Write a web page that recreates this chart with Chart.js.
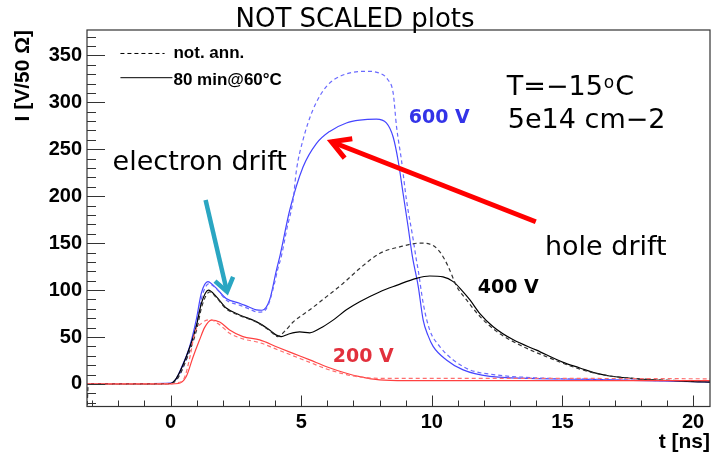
<!DOCTYPE html>
<html><head><meta charset="utf-8">
<script src="https://cdn.jsdelivr.net/npm/chart.js@4.4.1/dist/chart.umd.min.js"></script>
<style>html,body{margin:0;padding:0;background:#fff}#wrap{width:713px;height:455px}</style>
</head><body><div id="wrap"><canvas id="c" width="713" height="455"></canvas></div>
<script>
// ---- data ----
const titleText = "NOT SCALED plots";
const xTicks = [0, 5, 10, 15, 20];
const yTicks = [0, 50, 100, 150, 200, 250, 300, 350];

// 600 V, not annealed (dashed)
const t600n = [-3.2, -1, 0, 0.2, 0.45, 0.77, 1.02, 1.22, 1.48, 1.65, 1.8, 2.15, 2.64, 3.0, 3.35, 3.55, 3.75, 3.95, 4.1, 4.24, 4.45, 4.69, 4.82, 5.07, 5.45, 5.97, 6.6, 7.5, 8.0, 8.32, 8.52, 8.65, 8.84, 9.03, 9.28, 9.41, 9.48, 9.67, 9.92, 10.3, 10.82, 11.46, 12.48, 14, 16, 18, 20, 20.65];
const i600n = [0.5, 0.5, 0.5, 4, 16, 40, 68, 95, 107, 104, 100, 89, 84, 80, 76.5, 77, 85, 104, 122, 136, 165, 196, 228, 260, 292, 317, 329, 333, 331, 324, 310, 274, 238, 196, 155, 132, 121, 86, 57.5, 40, 25.6, 15, 9.6, 6.5, 5, 4, 3, 3];
// 600 V, 80 min @ 60 C (solid)
const t600a = [-3.2, -1, 0, 0.2, 0.41, 0.73, 0.98, 1.18, 1.43, 1.6, 1.75, 2.13, 2.64, 3.0, 3.28, 3.5, 3.79, 4.05, 4.2, 4.56, 5.07, 5.58, 6.09, 6.73, 7.24, 7.88, 8.26, 8.52, 8.71, 8.9, 9.09, 9.25, 9.48, 9.67, 9.85, 10.05, 10.56, 11.2, 12.22, 13.75, 15.67, 17, 20, 20.65];
const i600a = [0.5, 0.5, 1, 5, 17, 40, 68, 97, 109, 106, 102, 91, 86, 82, 79, 78.5, 89.5, 121, 138, 185, 231, 256, 269, 278, 281, 282, 278, 263, 238, 203, 168, 137, 104, 68, 52, 40, 25.6, 15, 8, 6, 5, 4.3, 2.5, 2];
// 400 V, not annealed (dashed)
const t400n = [-3.2, -3.15, -1, 0, 0.25, 0.62, 1.0, 1.2, 1.5, 1.75, 2.13, 2.64, 3.28, 3.79, 4.1, 4.4, 4.69, 5.33, 5.97, 6.6, 7.24, 8.0, 8.77, 9.54, 9.92, 10.3, 10.63, 10.95, 11.33, 11.84, 12.48, 13.37, 14.39, 15.54, 16.5, 17.5, 19, 20.65];
const i400n = [-30, 0, 0, 0.3, 5, 27, 58, 83, 98, 92, 80, 73, 66, 57, 50.5, 57, 66, 79, 93, 107, 123, 139, 146, 150, 149, 141, 125, 104, 89.5, 72, 56, 41.5, 29, 17, 10, 6.5, 4, 3];
// 400 V, 80 min @ 60 C (solid)
const t400a = [-3.2, -1, 0, 0.22, 0.6, 0.98, 1.18, 1.45, 1.75, 2.13, 2.64, 3.28, 3.79, 4.05, 4.24, 4.5, 4.94, 5.33, 5.71, 6.22, 6.73, 7.24, 8.0, 8.65, 9.41, 9.92, 10.43, 10.82, 11.14, 11.46, 11.84, 12.35, 13.12, 14.01, 15.03, 15.67, 16.2, 16.8, 18.1, 20, 20.65];
const i400a = [0, 0, 0.5, 6, 29, 61, 86, 100, 93, 81, 73.5, 66.4, 57.5, 52, 50.4, 53, 55.5, 54.5, 59, 68, 79, 87.6, 98, 105, 112.5, 115, 114, 109, 100, 89.5, 75, 61, 47, 36, 23, 17, 12, 8.5, 5, 2.5, 2];
// 200 V, not annealed (dashed)
const t200n = [-3.2, -1, 0, 0.2, 0.5, 0.75, 0.92, 1.2, 1.5, 1.88, 2.26, 2.77, 3.41, 4.05, 4.69, 5.33, 5.97, 6.73, 7.24, 8.0, 10, 14, 17, 20.65];
const i200n = [0, 0, 0, 1, 5, 30, 54, 65, 68.5, 63, 54, 48, 44, 37, 30, 23, 16, 10, 7.5, 6, 6, 6, 5.8, 5.5];
// 200 V, 80 min @ 60 C (solid)
const t200a = [-3.2, -1, 0, 0.3, 0.6, 0.85, 1.11, 1.3, 1.56, 1.88, 2.26, 2.77, 3.41, 4.05, 4.69, 5.33, 5.97, 6.73, 7.24, 8.0, 9, 11, 14, 17, 20.65];
const i200a = [0, 0, 0, 0.5, 8, 28, 47, 60, 68, 66, 57.5, 50.4, 46.9, 39.7, 32.6, 25.6, 18.4, 11.4, 7.8, 4.3, 3.5, 3.5, 3.5, 3.5, 3.5];

// ---- build ----
const pts = (t, v) => t.map((x, k) => ({x: x, y: v[k]}));
function ds(t, v, color, dashed) {
  return {data: pts(t, v), borderColor: color, borderWidth: 1.2, borderDash: dashed ? [4, 3] : [],
          pointRadius: 0, showLine: true, fill: false, cubicInterpolationMode: 'monotone'};
}

const annot = {
  id: 'annot',
  afterDatasetsDraw(chart) {
    const ctx = chart.ctx, xs = chart.scales.x, ys = chart.scales.y, a = chart.chartArea;
    const X = v => xs.getPixelForValue(v), Y = v => ys.getPixelForValue(v);
    ctx.save();
    // frame
    ctx.strokeStyle = '#333'; ctx.lineWidth = 1.2; ctx.setLineDash([]);
    ctx.strokeRect(a.left, a.top, a.right - a.left, a.bottom - a.top);
    // inside ticks
    ctx.beginPath();
    for (let v = -3; v <= 20; v++) {
      const L = v % 5 === 0 ? 11 : 6, px = Math.round(X(v)) + 0.5;
      ctx.moveTo(px, a.bottom); ctx.lineTo(px, a.bottom - L);
    }
    for (let v = -20; v <= 370; v += 10) {
      const L = v % 50 === 0 ? 18 : 9, py = Math.round(Y(v)) + 0.5;
      ctx.moveTo(a.left, py); ctx.lineTo(a.left + L, py);
    }
    ctx.lineWidth = 1; ctx.stroke();

    // arrows
    function arrow(t0, v0, t1, v1, color, w, hl, ang) {
      const x0 = X(t0), y0 = Y(v0), x1 = X(t1), y1 = Y(v1);
      const th = Math.atan2(y0 - y1, x0 - x1);
      ctx.strokeStyle = color; ctx.lineWidth = w; ctx.lineCap = 'butt'; ctx.lineJoin = 'miter';
      ctx.beginPath(); ctx.moveTo(x0, y0); ctx.lineTo(x1, y1); ctx.stroke();
      ctx.beginPath();
      ctx.moveTo(x1 + hl * Math.cos(th + ang), y1 + hl * Math.sin(th + ang));
      ctx.lineTo(x1, y1);
      ctx.lineTo(x1 + hl * Math.cos(th - ang), y1 + hl * Math.sin(th - ang));
      ctx.stroke();
    }
    arrow(1.34, 196, 2.16, 98.3, '#2aa6c2', 4.5, 16, 0.62);
    arrow(13.98, 172.8, 6.16, 258, '#ff0000', 5, 21, 0.52);

    // text annotations
    ctx.fillStyle = '#000'; ctx.textBaseline = 'alphabetic'; ctx.textAlign = 'left';
    ctx.font = "27px 'DejaVu Sans'";
    ctx.fillText('electron drift', X(-2.22), Y(227.9));
    ctx.fillText('hole drift', X(14.33), Y(137.4));
    let tx = X(12.87), ty = Y(307.8);
    ctx.fillText('T=\u221215', tx, ty); tx += ctx.measureText('T=\u221215').width + 1;
    ctx.font = "17px 'DejaVu Sans'"; ctx.fillText('o', tx, ty - 7); tx += ctx.measureText('o').width + 1;
    ctx.font = "27px 'DejaVu Sans'"; ctx.fillText('C', tx, ty);
    ctx.fillText('5e14 cm\u22122', X(12.91), Y(272.6));

    ctx.font = "bold 19px 'DejaVu Sans'";
    ctx.fillStyle = '#3333e8'; ctx.fillText('600 V', X(9.12), Y(278.3));
    ctx.fillStyle = '#000'; ctx.fillText('400 V', X(11.76), Y(96.6));
    ctx.fillStyle = '#e2303c'; ctx.fillText('200 V', X(6.21), Y(23.7));

    // legend
    ctx.strokeStyle = '#000'; ctx.lineWidth = 1; ctx.lineCap = 'butt';
    ctx.setLineDash([4, 3]);
    ctx.beginPath(); ctx.moveTo(X(-1.92), Y(352)); ctx.lineTo(X(-0.23), Y(352)); ctx.stroke();
    ctx.setLineDash([]);
    ctx.beginPath(); ctx.moveTo(X(-1.92), Y(326.2)); ctx.lineTo(X(0.07), Y(326.2)); ctx.stroke();
    ctx.fillStyle = '#000'; ctx.font = "bold 17px 'Liberation Sans'";
    ctx.fillText('not. ann.', X(0.11), Y(347.5));
    ctx.fillText('80 min@60\u00B0C', X(0.11), Y(318.4));
    ctx.restore();
  },
  afterDraw(chart) {
    const ctx = chart.ctx;
    ctx.save();
    ctx.fillStyle = '#000';
    ctx.font = "26px 'DejaVu Sans'"; ctx.textAlign = 'center'; ctx.textBaseline = 'alphabetic';
    ctx.fillText(titleText, 355, 27);
    ctx.font = "bold 21px 'Liberation Sans'"; ctx.textAlign = 'right';
    ctx.fillText('t [ns]', 710, 448);
    ctx.translate(29, 30); ctx.rotate(-Math.PI / 2);
    ctx.textAlign = 'right';
    ctx.fillText('I [V/50 \u03A9]', 0, 0);
    ctx.restore();
  }
};

new Chart(document.getElementById('c'), {
  type: 'scatter',
  data: {datasets: [
    ds(t200n, i200n, '#ff6e6e', true),
    ds(t200a, i200a, '#ff4040', false),
    ds(t400n, i400n, '#333333', true),
    ds(t400a, i400a, '#000000', false),
    ds(t600n, i600n, '#6a6aff', true),
    ds(t600a, i600a, '#4545ff', false)
  ]},
  options: {
    responsive: false, animation: false, devicePixelRatio: 1,
    layout: {padding: {top: 30, right: 3, left: 0, bottom: 0}},
    plugins: {legend: {display: false}, tooltip: {enabled: false}, title: {display: false}},
    scales: {
      x: {type: 'linear', min: -3.2, max: 20.65,
          afterBuildTicks: s => { s.ticks = xTicks.map(v => ({value: v})); },
          afterFit: s => { s.height = 48.5; },
          grid: {display: false, drawTicks: false}, border: {display: false},
          ticks: {color: '#000', padding: 4, font: {family: 'Liberation Sans', weight: 'bold', size: 20}}},
      y: {type: 'linear', min: -24, max: 377,
          afterBuildTicks: s => { s.ticks = yTicks.map(v => ({value: v})); },
          afterFit: s => { s.width = 87; },
          grid: {display: false, drawTicks: false}, border: {display: false},
          ticks: {color: '#000', padding: 5, font: {family: 'Liberation Sans', weight: 'bold', size: 20}}}
    }
  },
  plugins: [annot]
});
</script></body></html>
